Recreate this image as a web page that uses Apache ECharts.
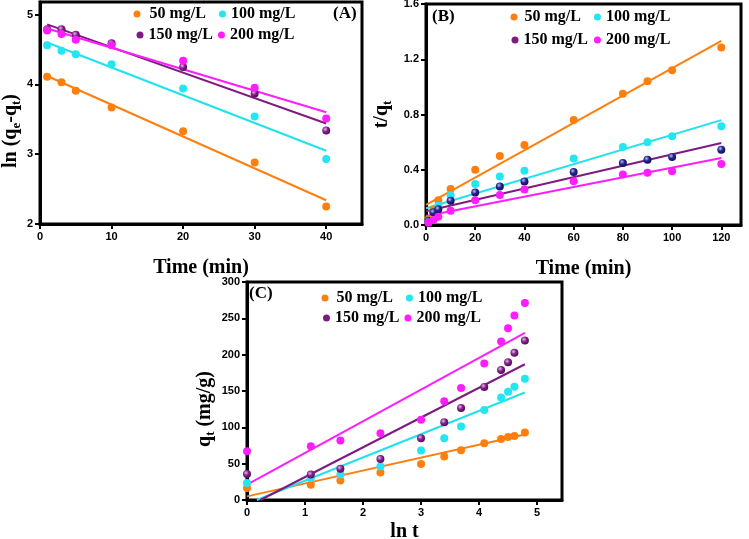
<!DOCTYPE html>
<html><head><meta charset="utf-8">
<script src="https://cdn.jsdelivr.net/npm/echarts@6/dist/echarts.min.js"></script>
<style>html,body{margin:0;padding:0;background:#fff}#c{width:749px;height:539px}</style>
</head><body><div id="c"></div>
<script>
// ---------- data ----------
const seriesNames = ['50 mg/L', '100 mg/L', '150 mg/L', '200 mg/L'];

// (A) pseudo-first-order
const timeA = [1, 3, 5, 10, 20, 30, 40];
const lnA_50  = [4.11, 4.03, 3.91, 3.67, 3.33, 2.88, 2.25];
const lnA_100 = [4.56, 4.48, 4.43, 4.29, 3.94, 3.54, 2.93];
const lnA_150 = [4.79, 4.79, 4.71, 4.59, 4.25, 3.87, 3.34];
const lnA_200 = [4.77, 4.72, 4.64, 4.56, 4.34, 3.95, 3.51];
const fitA_x   = [1, 40];
const fitA_50  = [4.12, 2.34];
const fitA_100 = [4.60, 3.05];
const fitA_150 = [4.86, 3.44];
const fitA_200 = [4.80, 3.60];

// (B) pseudo-second-order
const timeB = [1, 3, 5, 10, 20, 30, 40, 60, 80, 90, 100, 120];
const tqB_50  = [0.04, 0.11, 0.18, 0.26, 0.40, 0.50, 0.58, 0.76, 0.95, 1.04, 1.12, 1.285];
const tqB_100 = [0.03, 0.09, 0.14, 0.215, 0.297, 0.351, 0.393, 0.482, 0.565, 0.60, 0.642, 0.715];
const tqB_150 = [0.03, 0.092, 0.114, 0.176, 0.235, 0.279, 0.315, 0.383, 0.449, 0.473, 0.492, 0.545];
const tqB_200 = [0.017, 0.036, 0.06, 0.104, 0.18, 0.218, 0.257, 0.316, 0.366, 0.378, 0.39, 0.441];
const fitB_x   = [0, 120];
const fitB_50  = [0.145, 1.333];
const fitB_100 = [0.121, 0.759];
const fitB_150 = [0.10, 0.594];
const fitB_200 = [0.065, 0.485];

// (C) intraparticle diffusion
const lntC = [0, 1.10, 1.61, 2.30, 3.00, 3.40, 3.69, 4.09, 4.38, 4.50, 4.61, 4.79];
const qC_50  = [16.5, 21, 27, 38, 49.6, 60, 68.3, 78, 84, 86.8, 88, 93];
const qC_100 = [23.4, 30, 35, 46, 68, 85, 101, 124, 141, 149, 156, 167];
const qC_150 = [35.8, 35, 43, 56.4, 85, 107, 126.7, 155.6, 179, 189.5, 202.5, 219.4];
const qC_200 = [67, 74, 82, 92, 110.6, 135.8, 154, 187.7, 218, 236.4, 254, 271];
const fitC_50_x  = [0, 4.79],   fitC_50  = [5, 90];
const fitC_100_x = [0.17, 4.79], fitC_100 = [0, 148];
const fitC_150_x = [0.23, 4.79], fitC_150 = [0, 186.8];
const fitC_200_x = [0, 4.79],   fitC_200 = [21, 230];

const ticksA_x = [0, 10, 20, 30, 40];
const ticksA_y = [2, 3, 4, 5];
const ticksB_x = [0, 20, 40, 60, 80, 100, 120];
const ticksB_y = [0, 0.4, 0.8, 1.2, 1.6];
const ticksC_x = [0, 1, 2, 3, 4, 5];
const ticksC_y = [0, 50, 100, 150, 200, 250, 300];

// ---------- style ----------
const SERIF = "'Liberation Serif','Times New Roman',serif";
const SANS = "'Liberation Sans',Arial,sans-serif";
const lineColors = ['#FF7F0E', '#1EE3EE', '#7E1B80', '#FF1DFF'];
function radial(c0, c1, c2) {
  return { type: 'radial', x: 0.38, y: 0.35, r: 0.7,
    colorStops: [{ offset: 0, color: c0 }, { offset: 0.45, color: c1 }, { offset: 1, color: c2 }] };
}
const markColorsAC = ['#FF7F0E', '#22E6F0', radial('#e7b9ee', '#85228a', '#4e0a52'), '#FF1DFF'];
const markColorsB  = ['#FF7F0E', '#22E6F0', radial('#b9c0f0', '#24258f', '#0d0f55'), '#FF1DFF'];

const zip = (xs, ys) => xs.map((x, i) => [x, ys[i]]);

function axisCommon(ticks, fmt, namePad) {
  return {
    axisLine: { show: true, onZero: false, lineStyle: { color: '#000', width: 3 } },
    axisTick: { show: true, inside: false, length: 5, lineStyle: { color: '#000', width: 2 }, customValues: ticks },
    axisLabel: { color: '#000', fontFamily: SANS, fontWeight: 'bold', fontSize: 11, margin: 7,
      customValues: ticks, formatter: fmt || (v => String(v)) },
    splitLine: { show: false },
    nameLocation: 'middle',
    nameTextStyle: { color: '#000', fontFamily: SERIF, fontWeight: 'bold', fontSize: 20,
      padding: namePad || 0,
      rich: { sub: { fontFamily: SERIF, fontWeight: 'bold', fontSize: 13, padding: [12, 0, 0, 0], color: '#000' } } }
  };
}

const grids = [
  { left: 40, top: 2, width: 322, height: 222 },
  { left: 426, top: 4, width: 315, height: 221 },
  { left: 247, top: 282, width: 315, height: 218 }
].map(g => Object.assign(g, { show: true, borderColor: '#000', borderWidth: 3, containLabel: false, outerBoundsMode: 'none' }));

const xAxes = [
  Object.assign(axisCommon(ticksA_x), { type: 'value', gridIndex: 0, min: 0, max: 45, name: 'Time (min)', nameGap: 34 }),
  Object.assign(axisCommon(ticksB_x), { type: 'value', gridIndex: 1, min: 0, max: 128, name: 'Time (min)', nameGap: 34 }),
  Object.assign(axisCommon(ticksC_x), { type: 'value', gridIndex: 2, min: 0, max: 5.43, name: 'ln t', nameGap: 22 })
];
const yAxes = [
  Object.assign(axisCommon(ticksA_y, null, [0, 36, 0, 0]), { type: 'value', gridIndex: 0, min: 2, max: 5.18, name: 'ln (q{sub|e}-q{sub|t})', nameGap: 14 }),
  Object.assign(axisCommon(ticksB_y, v => v.toFixed(1)), { type: 'value', gridIndex: 1, min: 0, max: 1.6, name: 't/q{sub|t}', nameGap: 32 }),
  Object.assign(axisCommon(ticksC_y, null, [0, 36, 0, 0]), { type: 'value', gridIndex: 2, min: 0, max: 300, name: 'q{sub|t} (mg/g)', nameGap: 30 })
];

const series = [];
function addPanel(idx, xs, ysList, fitXs, fitYs, markColors) {
  ysList.forEach((ys, k) => {
    series.push({ type: 'line', name: seriesNames[k] + ' fit ' + idx, xAxisIndex: idx, yAxisIndex: idx,
      data: zip(fitXs[k], fitYs[k]), showSymbol: false, symbol: 'none', silent: true,
      lineStyle: { color: lineColors[k], width: 2 }, z: 2 });
  });
  ysList.forEach((ys, k) => {
    series.push({ type: 'scatter', name: seriesNames[k], xAxisIndex: idx, yAxisIndex: idx,
      data: zip(xs, ys), symbol: 'circle', symbolSize: 8,
      itemStyle: { color: markColors[k], opacity: 1 }, z: 3 });
  });
}
addPanel(0, timeA, [lnA_50, lnA_100, lnA_150, lnA_200],
  [fitA_x, fitA_x, fitA_x, fitA_x], [fitA_50, fitA_100, fitA_150, fitA_200], markColorsAC);
addPanel(1, timeB, [tqB_50, tqB_100, tqB_150, tqB_200],
  [fitB_x, fitB_x, fitB_x, fitB_x], [fitB_50, fitB_100, fitB_150, fitB_200], markColorsB);
addPanel(2, lntC, [qC_50, qC_100, qC_150, qC_200],
  [fitC_50_x, fitC_100_x, fitC_150_x, fitC_200_x], [fitC_50, fitC_100, fitC_150, fitC_200], markColorsAC);

const legendIconColors = ['#FF7F0E', '#22E6F0', '#7E1B80', '#FF1DFF'];
function legendRow(i0, left, centerY, gap, pad0, pad1) {
  return {
    left: left, top: centerY - 9, orient: 'horizontal', itemGap: gap, padding: 0,
    itemWidth: 7, itemHeight: 7, icon: 'circle', selectedMode: false,
    textStyle: { color: '#000', fontFamily: SERIF, fontWeight: 'bold', fontSize: 16, lineHeight: 18 },
    data: [
      { name: seriesNames[i0], itemStyle: { color: legendIconColors[i0] }, textStyle: { padding: [0, 0, 0, pad0] } },
      { name: seriesNames[i0 + 1], itemStyle: { color: legendIconColors[i0 + 1] }, textStyle: { padding: [0, 0, 0, pad1] } }
    ]
  };
}
const legends = [
  legendRow(0, 133.5, 14, 13, 4, 0),
  legendRow(2, 136.5, 35, 5, 0, 0),
  legendRow(0, 510.5, 17, 13, 2, 0),
  legendRow(2, 511.5, 40, 6, 0, 0),
  legendRow(0, 321.5, 298, 13, 3, 0),
  legendRow(2, 323, 318, 5, 0, 0)
];

const panelLabel = (txt, x, y) => ({ type: 'text', left: x, top: y,
  style: { text: txt, fill: '#000', font: "bold 17px " + SERIF } });

const chart = echarts.init(document.getElementById('c'), null, { renderer: 'canvas' });
chart.setOption({
  animation: false,
  backgroundColor: '#fff',
  grid: grids,
  xAxis: xAxes,
  yAxis: yAxes,
  legend: legends,
  series: series,
  graphic: [panelLabel('(A)', 333, 5), panelLabel('(B)', 432, 8), panelLabel('(C)', 249, 285)]
});
</script></body></html>
